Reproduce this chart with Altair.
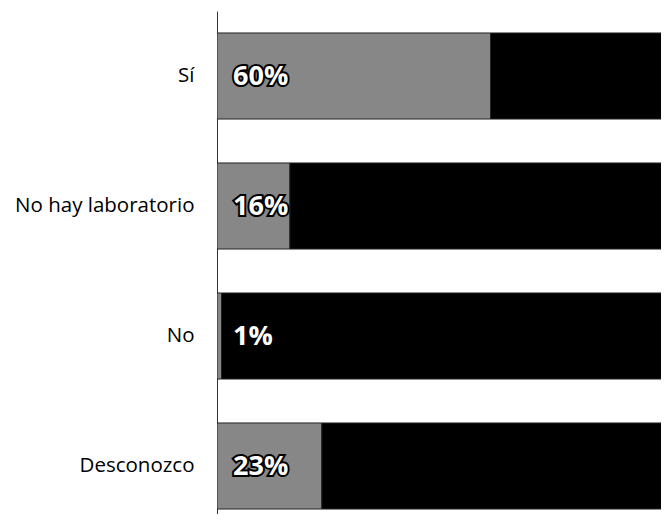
import altair as alt
import pandas as pd

categories = ["Sí", "No hay laboratorio", "No", "Desconozco"]
values = [60, 16, 1, 23]
total = 100

rows = []
for c, v in zip(categories, values):
    rows.append({"cat": c, "start": 0, "end": v, "part": "valor"})
    rows.append({"cat": c, "start": v, "end": total, "part": "resto"})
df = pd.DataFrame(rows)
lab = pd.DataFrame({"cat": categories, "label": [f"{v}%" for v in values], "pos": [0] * len(values)})

yscale = alt.Scale(domain=categories, range=[0, 520], paddingInner=0.338, paddingOuter=0.169)
xscale = alt.Scale(domain=[0, 97.4], nice=False, zero=True)

y_enc = alt.Y("cat:N", scale=yscale, sort=categories,
              axis=alt.Axis(title=None, ticks=False, labelPadding=23, labelFontSize=20.5,
                            labelFont="Open Sans", labelColor="#000000", domainColor="#333333",
                            domainWidth=1, labelLimit=300, grid=False))

bars = alt.Chart(df).mark_bar(clip=True, stroke="#222222", strokeWidth=1).encode(
    y=y_enc,
    x=alt.X("start:Q", scale=xscale, axis=None),
    x2="end:Q",
    color=alt.Color("part:N", scale=alt.Scale(domain=["valor", "resto"], range=["#878787", "#000000"]), legend=None),
)

txt_outline = alt.Chart(lab).mark_text(align="left", baseline="middle", dx=16, dy=1, fontSize=27,
                                       fontWeight="bold", font="Open Sans", color="#000000",
                                       stroke="#000000", strokeWidth=4).encode(
    y=alt.Y("cat:N", scale=yscale, sort=categories),
    x=alt.X("pos:Q", scale=xscale),
    text="label:N",
)
txt = alt.Chart(lab).mark_text(align="left", baseline="middle", dx=16, dy=1, fontSize=27,
                               fontWeight="bold", font="Open Sans", color="#ffffff").encode(
    y=alt.Y("cat:N", scale=yscale, sort=categories),
    x=alt.X("pos:Q", scale=xscale),
    text="label:N",
)

chart = alt.layer(bars, txt_outline, txt).properties(
    width=444, height=503,
    autosize=alt.AutoSizeParams(type="none"),
    padding={"left": 209, "top": 3, "right": 0, "bottom": 0},
).configure_view(stroke=None)

chart.save("out.html", embed_options={"renderer": "svg", "actions": False})
